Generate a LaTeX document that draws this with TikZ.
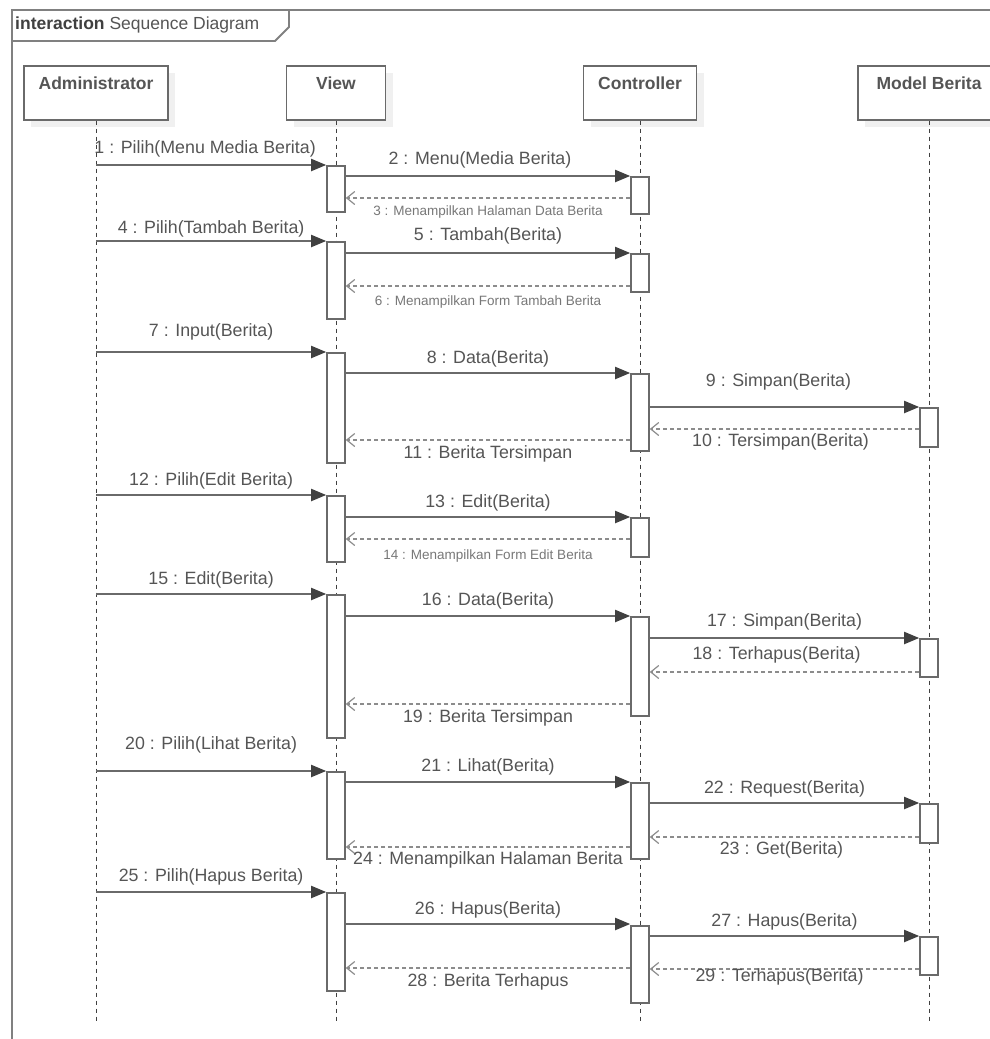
\documentclass[tikz,border=0pt]{standalone}
\usepackage{fontspec}
\setmainfont{Liberation Sans}
\usepackage{tikz}
\usetikzlibrary{arrows.meta, calc, shadows}
\definecolor{linegray}{HTML}{6A6A6A}
\definecolor{headgray}{HTML}{404040}
\definecolor{textgray}{HTML}{555555}
\definecolor{dashgray}{HTML}{8C8C8C}

\begin{document}
\begin{tikzpicture}[
    x = 1pt, y = -1pt,
    head/.style = {rectangle, draw = linegray, fill = white, line width = 1.6pt, anchor = north, text = textgray,
        font = \fontsize{17.5}{20}\selectfont\bfseries, inner xsep = 0pt, inner ysep = 6pt,
        text height = 18pt, text depth = 24pt,
        drop shadow = {shadow xshift = 7pt, shadow yshift = -7pt, fill = black!6, opacity = 1}},
    act/.style = {rectangle, draw = linegray, fill = white, line width = 1.6pt, anchor = north,
        minimum width = 18pt, inner sep = 0pt},
    lifeline/.style = {headgray, line width = 1pt, dash pattern = on 4pt off 4pt},
    call/.style = {linegray, line width = 1.9pt, -{Triangle[length = 15pt, width = 12pt, color = headgray]}},
    ret/.style = {dashgray, line width = 1.6pt, dash pattern = on 4pt off 3pt,
        -{Straight Barb[length = 8pt, width = 13pt, line width = 1.2pt]}},
    lbl/.style = {text = textgray, font = \fontsize{17.8}{20}\selectfont, inner sep = 0pt},
    small/.style = {text = textgray!80, font = \fontsize{13.5}{16}\selectfont, inner sep = 0pt},
    ]
    \useasboundingbox (0,0) rectangle (990,1039);

    % frame and its tab
    \draw [linegray!85, line width = 1.8pt] (12,1100) -- (12,10) -- (1100,10);
    \draw [linegray!85, line width = 1.8pt] (289,10) -- (289,27) -- (275,41) -- (12,41);
    \node [anchor = west, text = headgray, font = \fontsize{17.5}{20}\selectfont, inner sep = 0pt] (title) at (15,25)
        {\textbf{interaction} \textcolor{textgray}{Sequence Diagram}};

    % lifeline heads
    \node [head, minimum width = 144pt] (admin) at (96,65) {Administrator};
    \node [head, minimum width = 99pt] (view) at (336,65) {View};
    \node [head, minimum width = 113pt] (ctrl) at (640,65) {Controller};
    \node [head, minimum width = 142pt] (model) at (929,65) {Model Berita};
    \coordinate (bottom) at (0,1023);

    \foreach \n in {admin, view, ctrl, model}
        \draw [lifeline] (\n.south) -- (\n.south |- bottom);

    % activations of View
    \node [act, minimum height = 46pt] (v1) at (view |- 0,165) {};
    \node [act, minimum height = 77pt] (v2) at (view |- 0,241) {};
    \node [act, minimum height = 110pt] (v3) at (view |- 0,352) {};
    \node [act, minimum height = 66pt] (v4) at (view |- 0,495) {};
    \node [act, minimum height = 143pt] (v5) at (view |- 0,594) {};
    \node [act, minimum height = 87pt] (v6) at (view |- 0,771) {};
    \node [act, minimum height = 98pt] (v7) at (view |- 0,892) {};

    % activations of Controller
    \node [act, minimum height = 37pt] (c1) at (ctrl |- 0,176) {};
    \node [act, minimum height = 38pt] (c2) at (ctrl |- 0,253) {};
    \node [act, minimum height = 77pt] (c3) at (ctrl |- 0,373) {};
    \node [act, minimum height = 39pt] (c4) at (ctrl |- 0,517) {};
    \node [act, minimum height = 99pt] (c5) at (ctrl |- 0,616) {};
    \node [act, minimum height = 76pt] (c6) at (ctrl |- 0,782) {};
    \node [act, minimum height = 77pt] (c7) at (ctrl |- 0,925) {};

    % activations of Model Berita
    \node [act, minimum height = 39pt] (m1) at (model |- 0,407) {};
    \node [act, minimum height = 38pt] (m2) at (model |- 0,638) {};
    \node [act, minimum height = 39pt] (m3) at (model |- 0,803) {};
    \node [act, minimum height = 38pt] (m4) at (model |- 0,936) {};

    % menu media berita
    \draw [call] (admin |- v1.north) -- node [lbl, yshift = 16pt, xshift = -6pt] {1 : Pilih(Menu Media Berita)} (v1.north west);
    \draw [call] (v1.east |- c1.north) -- node [lbl, yshift = 16pt, xshift = -8pt] {2 : Menu(Media Berita)} (c1.north west);
    \draw [ret] (c1.west |- 0,198) -- node [small, yshift = -14pt] {3 : Menampilkan Halaman Data Berita} (v1.east |- 0,198);

    % tambah berita
    \draw [call] (admin |- v2.north) -- node [lbl, yshift = 12pt] {4 : Pilih(Tambah Berita)} (v2.north west);
    \draw [call] (v2.east |- c2.north) -- node [lbl, yshift = 17pt] {5 : Tambah(Berita)} (c2.north west);
    \draw [ret] (c2.west |- 0,286) -- node [small, yshift = -16pt] {6 : Menampilkan Form Tambah Berita} (v2.east |- 0,286);

    % input berita
    \draw [call] (admin |- v3.north) -- node [lbl, yshift = 20pt] {7 : Input(Berita)} (v3.north west);
    \draw [call] (v3.east |- c3.north) -- node [lbl, yshift = 14pt] {8 : Data(Berita)} (c3.north west);
    \draw [call] (c3.east |- m1.north) -- node [lbl, yshift = 25pt, xshift = -6pt] {9 : Simpan(Berita)} (m1.north west);
    \draw [ret] (m1.west |- 0,429) -- node [lbl, yshift = -13pt, xshift = -4pt] {10 : Tersimpan(Berita)} (c3.east |- 0,429);
    \draw [ret] (c3.west |- 0,440) -- node [lbl, yshift = -14pt] {11 : Berita Tersimpan} (v3.east |- 0,440);

    % edit berita
    \draw [call] (admin |- v4.north) -- node [lbl, yshift = 14pt] {12 : Pilih(Edit Berita)} (v4.north west);
    \draw [call] (v4.east |- c4.north) -- node [lbl, yshift = 14pt] {13 : Edit(Berita)} (c4.north west);
    \draw [ret] (c4.west |- 0,539) -- node [small, yshift = -17pt] {14 : Menampilkan Form Edit Berita} (v4.east |- 0,539);

    \draw [call] (admin |- v5.north) -- node [lbl, yshift = 14pt] {15 : Edit(Berita)} (v5.north west);
    \draw [call] (v5.east |- c5.north) -- node [lbl, yshift = 15pt] {16 : Data(Berita)} (c5.north west);
    \draw [call] (c5.east |- m2.north) -- node [lbl, yshift = 16pt] {17 : Simpan(Berita)} (m2.north west);
    \draw [ret] (m2.west |- 0,672) -- node [lbl, yshift = 17pt, xshift = -8pt] {18 : Terhapus(Berita)} (c5.east |- 0,672);
    \draw [ret] (c5.west |- 0,704) -- node [lbl, yshift = -14pt] {19 : Berita Tersimpan} (v5.east |- 0,704);

    % lihat berita
    \draw [call] (admin |- v6.north) -- node [lbl, yshift = 26pt] {20 : Pilih(Lihat Berita)} (v6.north west);
    \draw [call] (v6.east |- c6.north) -- node [lbl, yshift = 15pt] {21 : Lihat(Berita)} (c6.north west);
    \draw [call] (c6.east |- m3.north) -- node [lbl, yshift = 14pt] {22 : Request(Berita)} (m3.north west);
    \draw [ret] (m3.west |- 0,837) -- node [lbl, yshift = -13pt, xshift = -3pt] {23 : Get(Berita)} (c6.east |- 0,837);
    \draw [ret] (c6.west |- 0,847) -- node [lbl, yshift = -13pt] {24 : Menampilkan Halaman Berita} (v6.east |- 0,847);

    % hapus berita
    \draw [call] (admin |- v7.north) -- node [lbl, yshift = 15pt] {25 : Pilih(Hapus Berita)} (v7.north west);
    \draw [call] (v7.east |- 0,924) -- node [lbl, yshift = 14pt] {26 : Hapus(Berita)} (c7.west |- 0,924);
    \draw [call] (c7.east |- m4.north) -- node [lbl, yshift = 14pt] {27 : Hapus(Berita)} (m4.north west);
    \draw [ret] (c7.west |- 0,968) -- node [lbl, yshift = -14pt] {28 : Berita Terhapus} (v7.east |- 0,968);
    \draw [ret] (m4.west |- 0,969) -- node [lbl, yshift = -8pt, xshift = -5pt] {29 : Terhapus(Berita)} (c7.east |- 0,969);
\end{tikzpicture}
\end{document}
